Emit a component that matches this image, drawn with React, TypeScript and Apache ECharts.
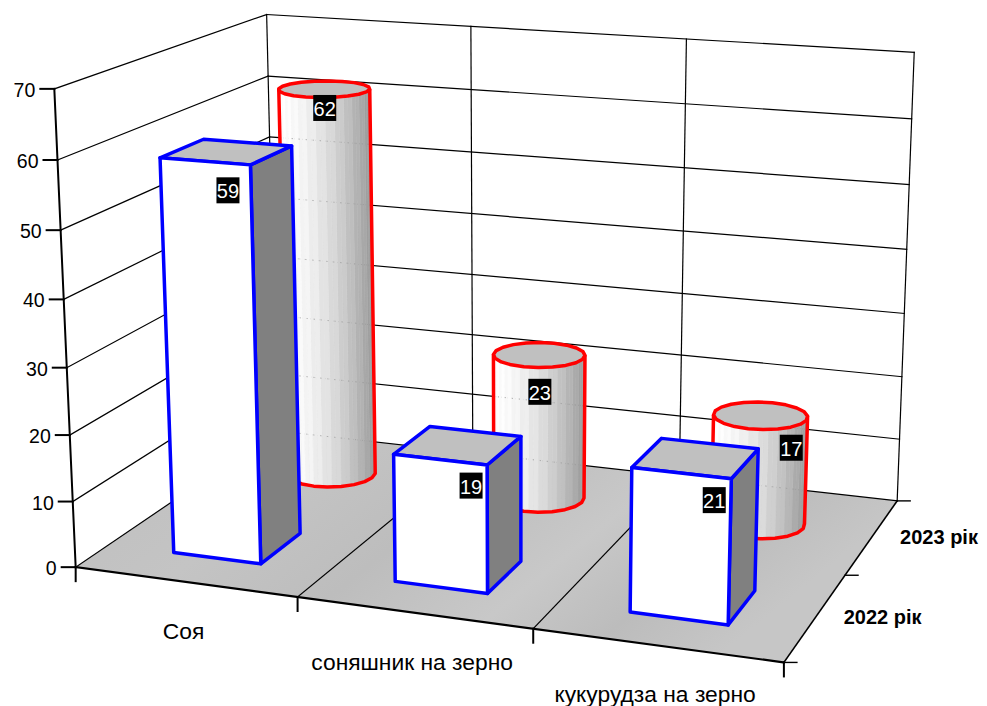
import React, { useEffect, useRef } from "react";
import * as echarts from "echarts";

const categories = ["Соя", "соняшник на зерно", "кукурудза на зерно"];
const years = ["2022 рік", "2023 рік"];
const values2022 = [59, 19, 21];
const values2023 = [62, 23, 17];
const valueTicks = [0, 10, 20, 30, 40, 50, 60, 70];

const W = 987, H = 706;
const FONT = '"Liberation Sans", Arial, sans-serif';
const VMAX = 70;

// Camera calibration: cube coordinates (u,d,w) to page pixels, with a weight.
const CALIB: number[][] = [
  [0, 0, 0, 76, 567, 4], [1, 0, 0, 784, 662, 4], [1, 1, 0, 897, 501, 4],
  [0, 0, 1, 54, 89, 4], [0, 1, 1, 267, 14, 4], [1, 1, 1, 914, 52, 4],
  [1 / 3, 0, 0, 297, 597, 1], [2 / 3, 0, 0, 533, 630, 1], [1, 0.5, 0, 846, 576, 1],
  [0, 0, 6 / 7, 58, 160, 1], [0, 0, 5 / 7, 61, 230, 1], [0, 0, 4 / 7, 64, 300, 1],
  [0, 0, 3 / 7, 67, 368, 1], [0, 0, 2 / 7, 69, 435, 1], [0, 0, 1 / 7, 72, 501, 1],
  [1 / 3, 1, 1, 471, 29, 1], [2 / 3, 1, 1, 687, 39, 1],
  [1, 1, 6 / 7, 912, 119, 1], [1, 1, 5 / 7, 909, 184, 1],
  [0, 1, 6 / 7, 268, 76, 1], [0, 1, 5 / 7, 268.5, 137, 1],
];

function solveCamera(): number[] {
  const n = 11;
  const A: number[][] = Array.from({ length: n }, () => new Array(n + 1).fill(0));
  const addRow = (r: number[], b: number, wt: number) => {
    for (let i = 0; i < n; i++) {
      for (let j = 0; j < n; j++) A[i][j] += wt * r[i] * r[j];
      A[i][n] += wt * r[i] * b;
    }
  };
  for (const [u, d, w, x, y, wt] of CALIB) {
    addRow([u, d, w, 1, 0, 0, 0, 0, -x * u, -x * d, -x * w], x, wt);
    addRow([0, 0, 0, 0, u, d, w, 1, -y * u, -y * d, -y * w], y, wt);
  }
  for (let c = 0; c < n; c++) {
    let best = c;
    for (let r = c + 1; r < n; r++) if (Math.abs(A[r][c]) > Math.abs(A[best][c])) best = r;
    [A[c], A[best]] = [A[best], A[c]];
    for (let r = 0; r < n; r++) {
      if (r === c) continue;
      const f = A[r][c] / A[c][c];
      for (let k = c; k <= n; k++) A[r][k] -= f * A[c][k];
    }
  }
  return A.map((row, i) => row[n] / row[i]);
}
const CAM = solveCamera();
const proj = (u: number, d: number, w: number): number[] => {
  const s = CAM[8] * u + CAM[9] * d + CAM[10] * w + 1;
  return [
    (CAM[0] * u + CAM[1] * d + CAM[2] * w + CAM[3]) / s,
    (CAM[4] * u + CAM[5] * d + CAM[6] * w + CAM[7]) / s,
  ];
};

const BAR_U = 0.4 / 3; // width of a bar along the category axis
const BAR_D = 0.2;     // depth of a bar along the series axis
const ROW_D = [0.25, 0.75];
const LABEL_OFFSET_2022 = [[23, 29], [31, 26], [33, 27]];
const LABEL_OFFSET_2023 = [[19, 11], [16, 25], [43, 19]];

const line = (a: number[], b: number[], lineWidth: number, stroke = "#000") => ({
  type: "line", silent: true,
  shape: { x1: a[0], y1: a[1], x2: b[0], y2: b[1] },
  style: { stroke, lineWidth, lineCap: "square" },
});
const poly = (points: number[][], fill: any, stroke?: string, lineWidth = 0) => ({
  type: "polygon", silent: true, shape: { points },
  style: { fill, stroke: stroke || "none", lineWidth, lineJoin: "round" },
});
const text = (s: string, x: number, y: number, align: string, size = 19.5, fontWeight = "normal", fill = "#000") => ({
  type: "text", silent: true,
  style: { text: s, x, y, align, verticalAlign: "middle", fill, font: `${fontWeight} ${size}px ${FONT}` },
});
const dataLabel = (v: number, x: number, y: number) => ({
  type: "group", silent: true,
  children: [
    { type: "rect", silent: true, shape: { x: x - 11.5, y: y - 13, width: 23, height: 26 }, style: { fill: "#000" } },
    text(String(v), x, y + 1, "center", 20, "normal", "#fff"),
  ],
});

const toCube = (api: any, cat: number, value: number) => {
  const p = api.coord([cat, value]);
  return { u: p[0] / W, w: (H - p[1]) / H };
};

function renderWalls(_: any, api: any) {
  const w = (t: number) => toCube(api, 0, t).w;
  const kids: any[] = [];
  const floorFill = new echarts.graphic.LinearGradient(0, 0, 1, 0.35, [
    { offset: 0, color: "#bebebe" },
    { offset: 0.3, color: "#c4c4c4" },
    { offset: 0.5, color: "#bdbdbd" },
    { offset: 0.7, color: "#c8c8c8" },
    { offset: 0.85, color: "#bcbcbc" },
    { offset: 1, color: "#c6c6c6" },
  ]);
  kids.push(poly([proj(0, 0, 0), proj(1, 0, 0), proj(1, 1, 0), proj(0, 1, 0)], floorFill));
  for (const t of valueTicks) {
    const a = proj(0, 0, w(t)), b = proj(0, 1, w(t)), c = proj(1, 1, w(t));
    kids.push(line(a, b, 1.2), line(b, c, 1.2));
  }
  for (const u of [0, 1 / 3, 2 / 3, 1]) {
    kids.push(line(proj(u, 1, 0), proj(u, 1, 1), 1.2));
    if (u > 0 && u < 1) kids.push(line(proj(u, 0, 0), proj(u, 1, 0), 1.2));
  }
  return { type: "group", children: kids };
}

function renderAxes(_: any, api: any) {
  const w = (t: number) => toCube(api, 0, t).w;
  const kids: any[] = [];
  kids.push(line(proj(0, 0, 0), proj(0, 0, 1), 2));
  kids.push(line(proj(0, 0, 0), proj(1, 0, 0), 2.2));
  kids.push(line(proj(1, 0, 0), proj(1, 1, 0), 1.6));
  for (const t of valueTicks) {
    const p = proj(0, 0, w(t));
    kids.push(line([p[0] - 14, p[1]], p, 2));
    kids.push(text(String(t), p[0] - 19, p[1] + 1, "right"));
  }
  for (const u of [0, 1 / 3, 2 / 3, 1]) {
    const p = proj(u, 0, 0);
    kids.push(line(p, [p[0], p[1] + 14], 2));
  }
  for (const d of [0, 0.5, 1]) {
    const p = proj(1, d, 0);
    kids.push(line(p, [p[0] + 13, p[1]], 1.4));
  }
  categories.forEach((c, i) => {
    const p = proj((i + 0.5) / 3, 0, 0);
    kids.push(text(c, p[0] - 1.5, p[1] + 49, "center", 22.8));
  });
  years.forEach((y, i) => {
    const p = proj(1, ROW_D[i], 0);
    kids.push(text(y, p[0] + 28, p[1], "left", 20, "bold"));
  });
  return { type: "group", children: kids };
}

function renderBox(_: any, api: any) {
  const cat = api.value(0), v = api.value(1);
  const { u, w } = toCube(api, cat, v);
  const dc = ROW_D[0];
  const u0 = u - BAR_U / 2, u1 = u + BAR_U / 2, d0 = dc - BAR_D / 2, d1 = dc + BAR_D / 2;
  const edge = "#0000ff", lw = 3.5;
  return {
    type: "group",
    children: [
      poly([proj(u1, d0, 0), proj(u1, d1, 0), proj(u1, d1, w), proj(u1, d0, w)], "#808080", edge, lw),
      poly([proj(u0, d0, w), proj(u1, d0, w), proj(u1, d1, w), proj(u0, d1, w)], "#c0c0c0", edge, lw),
      poly([proj(u0, d0, 0), proj(u1, d0, 0), proj(u1, d0, w), proj(u0, d0, w)], "#ffffff", edge, lw),
    ],
  };
}

function renderCylinder(_: any, api: any) {
  const cat = api.value(0), v = api.value(1);
  const { u, w } = toCube(api, cat, v);
  const dc = ROW_D[1], N = 60, OUTLINE_N = 20;
  const ring = (wv: number, n: number) => {
    const pts: number[][] = [];
    for (let k = 0; k < n; k++) {
      const a = (k / n) * Math.PI * 2;
      pts.push(proj(u + (BAR_U / 2) * Math.cos(a), dc - (BAR_D / 2) * Math.sin(a), wv));
    }
    return pts;
  };
  const frontOf = (n: number, iR: number, iL: number) => {
    const f: number[] = [];
    for (let k = iR; k !== iL; k = (k + 1) % n) f.push(k);
    f.push(iL);
    return f;
  };
  const extremes = (pts: number[][]) => {
    const xs = pts.map((p) => p[0]);
    const minX = Math.min(...xs), maxX = Math.max(...xs);
    return { minX, maxX, iL: xs.indexOf(minX), iR: xs.indexOf(maxX) };
  };
  const bot = ring(0, N), top = ring(w, N);
  const { minX, maxX, iL, iR } = extremes(bot);
  const kids: any[] = [];
  const front = frontOf(N, iR, iL);
  for (let i = 0; i < front.length - 1; i++) {
    const a = front[i], b = front[i + 1];
    const t = ((bot[a][0] + bot[b][0]) / 2 - minX) / (maxX - minX);
    const g = Math.round(253 - 100 * Math.pow(t, 1.7) + (i % 2 ? 3 : -2));
    const c = `rgb(${g},${g},${g})`;
    kids.push(poly([bot[a], bot[b], top[b], top[a]], c, c, 0.6));
  }
  // Gridlines of the back wall show faintly through the cylinder.
  for (const t of valueTicks) {
    const tw = toCube(api, 0, t).w;
    const pts: number[][] = [];
    for (let s = 0; s <= 400; s++) {
      const p = proj(s / 400, 1, tw);
      if (p[0] > minX + 4 && p[0] < maxX - 4) pts.push(p);
    }
    if (pts.length > 1 && pts[0][1] > top[iL][1] + 12 && pts[0][1] < bot[iL][1]) {
      kids.push({
        type: "polyline", silent: true, shape: { points: pts },
        style: { stroke: "#a0a0a0", lineWidth: 1, lineDash: [1, 6], fill: "none" },
      });
    }
  }
  // Outline: a coarser polygon, like the faceted edge of the original.
  const botO = ring(0, OUTLINE_N), topO = ring(w, OUTLINE_N);
  const ex = extremes(botO);
  const outline: number[][] = [topO[ex.iR]];
  frontOf(OUTLINE_N, ex.iR, ex.iL).forEach((k) => outline.push(botO[k]));
  outline.push(topO[ex.iL]);
  kids.push({
    type: "polyline", silent: true, shape: { points: outline },
    style: { stroke: "#ff0000", lineWidth: 3.5, fill: "none", lineJoin: "round" },
  });
  kids.push(poly(topO, "#c0c0c0", "#ff0000", 3.5));
  return { type: "group", children: kids };
}

function renderLabels(row: number, offsets: number[][]) {
  return (_: any, api: any) => {
    const cat = api.value(0), v = api.value(1);
    const { u, w } = toCube(api, cat, v);
    const p = proj(u, ROW_D[row] - BAR_D / 2, w);
    return dataLabel(v, p[0] + offsets[cat][0], p[1] + offsets[cat][1]);
  };
}

const pairs = (a: number[]) => a.map((v, i) => [i, v]);
const custom = (name: string, data: number[][], renderItem: any, z: number) => ({
  type: "custom", name, data, renderItem, z, clip: false, silent: true,
  encode: { x: 0, y: 1 },
});

export default function App() {
  const ref = useRef<HTMLDivElement>(null);
  useEffect(() => {
    document.body.style.margin = "0";
    const chart = echarts.init(ref.current!, undefined, { renderer: "svg" });
    chart.setOption({
      animation: false,
      backgroundColor: "#ffffff",
      tooltip: { show: false },
      grid: { left: 0, top: 0, width: W, height: H },
      xAxis: { type: "category", data: categories, show: false },
      yAxis: { type: "value", min: 0, max: VMAX, interval: 10, show: false },
      series: [
        custom("walls", [[0, 0]], renderWalls, 1),
        custom(years[1], pairs(values2023), renderCylinder, 2),
        custom(years[0], pairs(values2022), renderBox, 3),
        custom("axes", [[0, 0]], renderAxes, 4),
        custom("labels 2023", pairs(values2023), renderLabels(1, LABEL_OFFSET_2023), 5),
        custom("labels 2022", pairs(values2022), renderLabels(0, LABEL_OFFSET_2022), 5),
      ],
    });
    return () => chart.dispose();
  }, []);
  return <div ref={ref} style={{ width: W, height: H }} />;
}
